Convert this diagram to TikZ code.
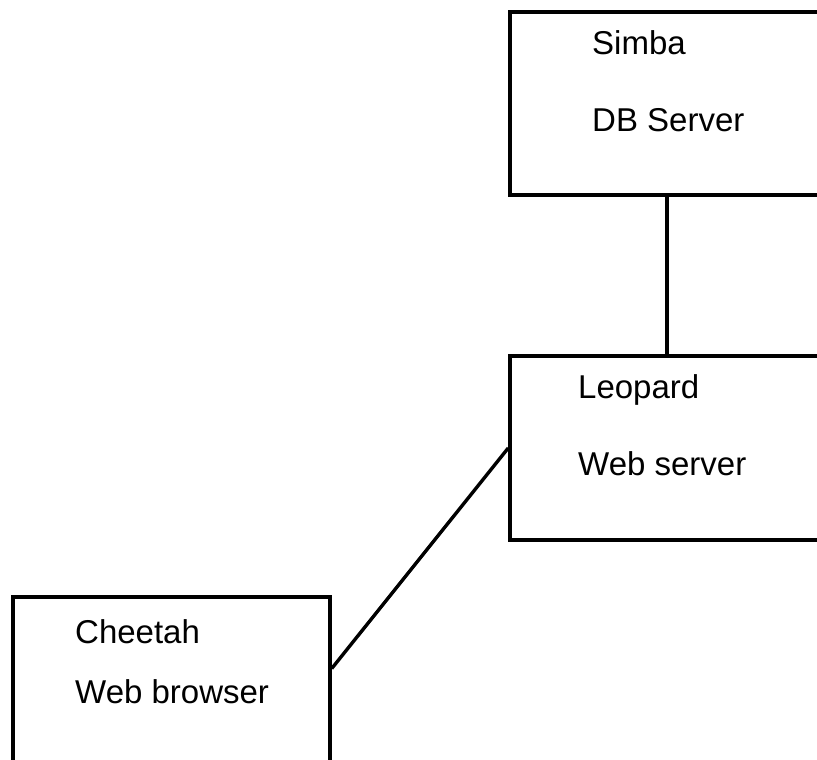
\documentclass[tikz,border=0pt]{standalone}
\usepackage{fontspec}
\setmainfont{Liberation Sans}
\usetikzlibrary{positioning}

\begin{document}
\begin{tikzpicture}[
  x=1pt, y=-1pt,
  hostbox/.style={
    draw=black, fill=white, line width=3.5pt,
    minimum width=314pt, inner sep=0pt
  },
  hostlabel/.style={
    anchor=base west, inner sep=0pt,
    font=\fontsize{33}{39}\selectfont
  },
  link/.style={draw=black, line width=3.4pt},
]
\path[use as bounding box, clip] (0,0) rectangle (817,760);
% --- hosts ---
\node[hostbox, minimum height=183pt] (simba) at (667,103.5) {};
\node[hostbox, minimum height=184pt] (leopard) at (667,448) {};
\node[hostbox, minimum width=317pt, minimum height=193pt] (cheetah) at (171.5,693.5) {};
% --- labels ---
\node[hostlabel] (simbaname) at (592,55) {Simba};
\node[hostlabel] (simbarole) at (592,131) {DB Server};
\node[hostlabel] (leopardname) at (578,398) {Leopard};
\node[hostlabel] (leopardrole) at (578,475) {Web server};
\node[hostlabel] (cheetahname) at (75,643) {Cheetah};
\node[hostlabel] (cheetahrole) at (75,703) {Web browser};
% --- links ---
\draw[link] (simba.south) -- (leopard.north);
\draw[link] (leopard.west) -- ([yshift=25pt]cheetah.east);
\end{tikzpicture}
\end{document}
